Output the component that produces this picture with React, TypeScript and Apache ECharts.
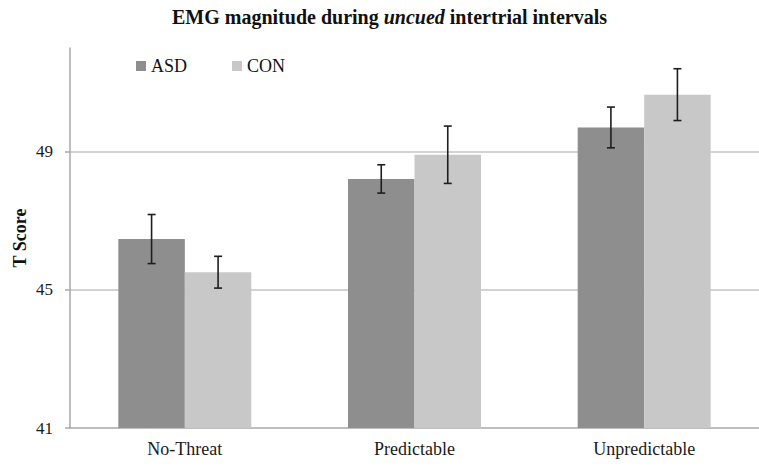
import React, { useEffect, useRef } from "react";
import * as echarts from "echarts";

const categories = ["No-Threat", "Predictable", "Unpredictable"];
const seriesNames = ["ASD", "CON"];
const asdValues = [46.47, 48.21, 49.7];
const conValues = [45.51, 48.91, 50.65];
const asdErrors = [0.71, 0.41, 0.59];
const conErrors = [0.46, 0.83, 0.75];
const yTicks = { min: 41, max: 52, interval: 4 };

const FONT = "Liberation Serif, DejaVu Serif, serif";
const BAR_W = 66.5;
const COLORS = ["#8e8e8e", "#c8c8c8"];

function errorSeries(values: number[], errors: number[], offset: number) {
  return {
    type: "custom",
    silent: true,
    z: 10,
    encode: { x: 0, y: [1, 2] },
    data: values.map((v, i) => [i, v - errors[i], v + errors[i]]),
    renderItem: (params: any, api: any) => {
      const idx = api.value(0);
      const lo = api.coord([idx, api.value(1)]);
      const hi = api.coord([idx, api.value(2)]);
      const x = hi[0] + offset;
      const cap = 4;
      const style = { stroke: "#1e1e1e", lineWidth: 1.6 };
      return {
        type: "group",
        children: [
          { type: "line", shape: { x1: x, y1: hi[1], x2: x, y2: lo[1] }, style },
          { type: "line", shape: { x1: x - cap, y1: hi[1], x2: x + cap, y2: hi[1] }, style },
          { type: "line", shape: { x1: x - cap, y1: lo[1], x2: x + cap, y2: lo[1] }, style },
        ],
      };
    },
  };
}

export default function App() {
  const ref = useRef<HTMLDivElement>(null);
  useEffect(() => {
    document.body.style.margin = "0";
    const chart = echarts.init(ref.current!, null, { renderer: "svg" });
    chart.setOption({
      animation: false,
      backgroundColor: "#ffffff",
      title: {
        text: "{b|EMG magnitude during }{i|uncued}{b| intertrial intervals}",
        left: 172,
        top: 7,
        padding: 0,
        textStyle: {
          rich: {
            b: { fontFamily: FONT, fontWeight: "bold", fontSize: 20, color: "#111" },
            i: { fontFamily: FONT, fontWeight: "bold", fontStyle: "italic", fontSize: 20, color: "#111" },
          },
        },
      },
      legend: {
        data: seriesNames,
        left: 136,
        top: 57,
        padding: 0,
        icon: "rect",
        itemWidth: 10,
        itemHeight: 10,
        itemGap: 45,
        textStyle: { fontFamily: FONT, fontSize: 18, color: "#111" },
      },
      grid: { left: 70, width: 699, top: 48, bottom: 38, containLabel: false },
      xAxis: {
        type: "category",
        data: categories,
        axisLine: { lineStyle: { color: "#a8a8a8", width: 1.5 } },
        axisTick: { length: 5, lineStyle: { color: "#a8a8a8", width: 1.5 } },
        axisLabel: { margin: 12, fontFamily: FONT, fontSize: 18, color: "#1a1a1a" },
      },
      yAxis: {
        type: "value",
        min: yTicks.min,
        max: yTicks.max,
        interval: yTicks.interval,
        name: "T Score",
        nameLocation: "middle",
        nameGap: 41,
        nameMoveOverlap: false,
        nameRotate: 90,
        nameTextStyle: { fontFamily: FONT, fontWeight: "bold", fontSize: 18, color: "#111" },
        axisLine: { show: true, lineStyle: { color: "#a8a8a8", width: 1.5 } },
        axisTick: { show: true, length: 5, lineStyle: { color: "#a8a8a8", width: 1.5 } },
        axisLabel: { showMaxLabel: false, margin: 17, fontFamily: FONT, fontSize: 17, color: "#1a1a1a" },
        splitLine: {
          show: true,
          showMinLine: false,
          showMaxLine: false,
          lineStyle: { color: "#c4c4c4", width: 1.5 },
        },
      },
      series: [
        {
          name: seriesNames[0],
          type: "bar",
          data: asdValues,
          barWidth: BAR_W,
          barGap: "0%",
          itemStyle: { color: COLORS[0] },
        },
        {
          name: seriesNames[1],
          type: "bar",
          data: conValues,
          barWidth: BAR_W,
          barGap: "0%",
          itemStyle: { color: COLORS[1] },
        },
        errorSeries(asdValues, asdErrors, -BAR_W / 2),
        errorSeries(conValues, conErrors, BAR_W / 2),
      ],
    });
    return () => chart.dispose();
  }, []);
  return <div ref={ref} style={{ width: 759, height: 466 }} />;
}
